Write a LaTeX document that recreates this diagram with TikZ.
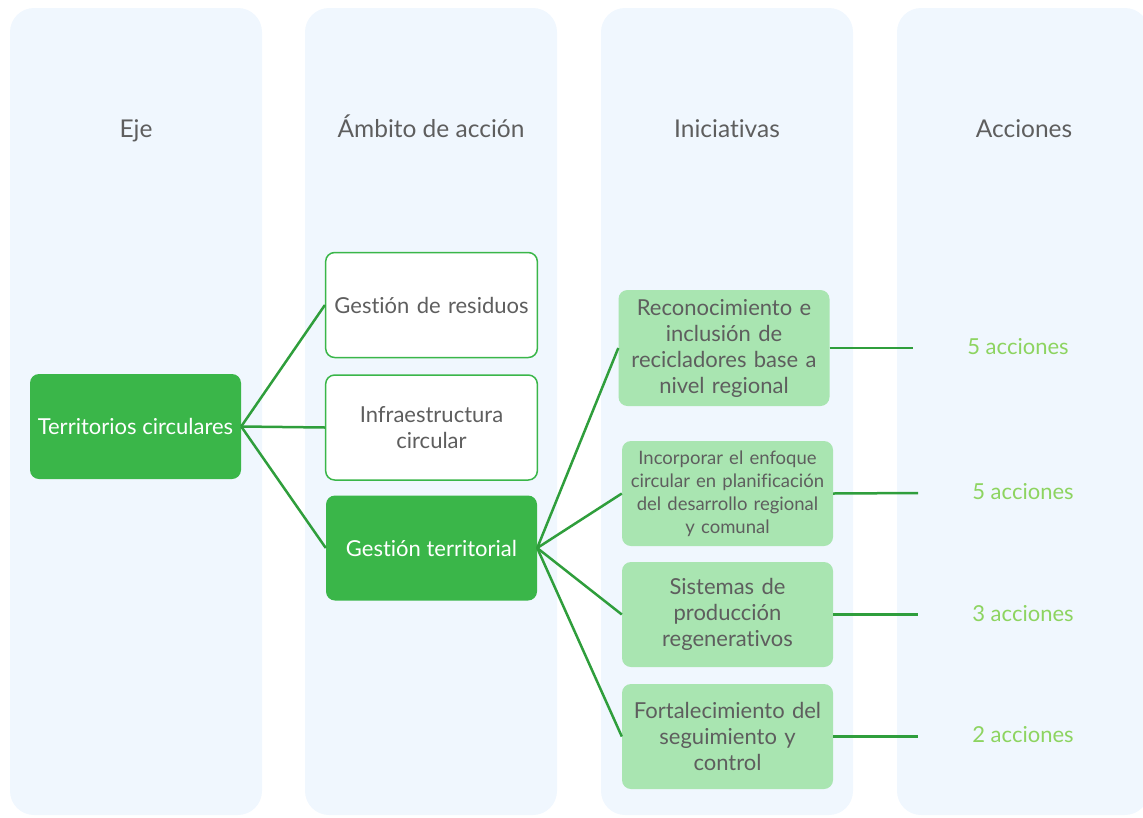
\documentclass[tikz,border=0pt]{standalone}
\usepackage{fontspec}
\setmainfont{Lato}[Ligatures=NoCommon]
\usetikzlibrary{positioning}
\definecolor{panel}{HTML}{F0F7FE}
\definecolor{darkgreen}{HTML}{3AB649}
\definecolor{linegreen}{HTML}{2F9E3C}
\definecolor{lightgreen}{HTML}{A9E5B1}
\definecolor{textgray}{HTML}{5E5E5E}
\definecolor{actgreen}{HTML}{8DD460}
\tikzset{
  panelbox/.style={fill=panel, rounded corners=24pt},
  header/.style={text=textgray, anchor=base, font=\fontsize{24.5}{28}\selectfont},
  darkbox/.style={fill=darkgreen, text=white, rounded corners=9pt, minimum width=211pt, minimum height=105pt, align=center, font=\fontsize{22}{26}\selectfont},
  whitebox/.style={fill=white, draw=darkgreen, line width=1.5pt, text=textgray, rounded corners=9pt, minimum width=211pt, minimum height=105pt, text width=205pt, align=center, font=\fontsize{22}{26}\selectfont},
  initbox/.style={fill=lightgreen, text=textgray, rounded corners=9pt, minimum width=211pt, minimum height=105pt, text width=204pt, align=center, font=\fontsize{22}{26}\selectfont},
  actlabel/.style={text=actgreen, font=\fontsize{22}{26}\selectfont},
  link/.style={draw=linegreen, line width=2.5pt}
}

\begin{document}
\begin{tikzpicture}[x=1pt,y=-1pt]
  \useasboundingbox (0,0) rectangle (1143,817);
  % columns
  \fill[panelbox] (10,8) rectangle (262,815);
  \fill[panelbox] (305,8) rectangle (557,815);
  \fill[panelbox] (601,8) rectangle (853,815);
  \fill[panelbox] (897,8) rectangle (1149,815);
  \node[header] (hEje) at (136,137) {Eje};
  \node[header] (hAmbito) at (431,137) {Ámbito de acción};
  \node[header] (hInic) at (727,137) {Iniciativas};
  \node[header] (hAcc) at (1024,137) {Acciones};

  % eje y ambitos
  \node[darkbox] (eje) at (135.5,426.5) {Territorios circulares};
  \node[whitebox] (residuos) at (431.5,305) {Gestión de residuos};
  \node[whitebox] (infra) at (431.5,427.5) {Infraestructura\\circular};
  \node[darkbox] (territorial) at (431.5,548) {Gestión territorial};

  % iniciativas
  \node[initbox, minimum height=116pt] (recon) at (724,348) {Reconocimiento e\\inclusión de\\recicladores base a\\nivel regional};
  \node[initbox, font=\fontsize{18.5}{23}\selectfont] (incorp) at (727.5,493.5) {Incorporar el enfoque\\circular en planificación\\del desarrollo regional\\y comunal};
  \node[initbox] (sistemas) at (727.5,614.5) {Sistemas de\\producción\\regenerativos};
  \node[initbox] (fortal) at (727.5,736.5) {Fortalecimiento del\\seguimiento y\\control};

  % acciones
  \node[actlabel] (a1) at (1018,347) {5 acciones};
  \node[actlabel] (a2) at (1023,492) {5 acciones};
  \node[actlabel] (a3) at (1023,614) {3 acciones};
  \node[actlabel] (a4) at (1023,735) {2 acciones};
  \coordinate (e1) at (913,348);
  \coordinate (e2) at (918,493);
  \coordinate (e3) at (918,614.5);
  \coordinate (e4) at (918,736.5);

  \draw[link] (eje.east) -- (residuos.west);
  \draw[link] (eje.east) -- (infra.west);
  \draw[link] (eje.east) -- (territorial.west);
  \draw[link] (territorial.east) -- (recon.west);
  \draw[link] (territorial.east) -- (incorp.west);
  \draw[link] (territorial.east) -- (sistemas.west);
  \draw[link] (territorial.east) -- (fortal.west);
  \draw[link] (recon.east) -- (e1);
  \draw[link] (incorp.east) -- (e2);
  \draw[link] (sistemas.east) -- (e3);
  \draw[link] (fortal.east) -- (e4);
\end{tikzpicture}
\end{document}
